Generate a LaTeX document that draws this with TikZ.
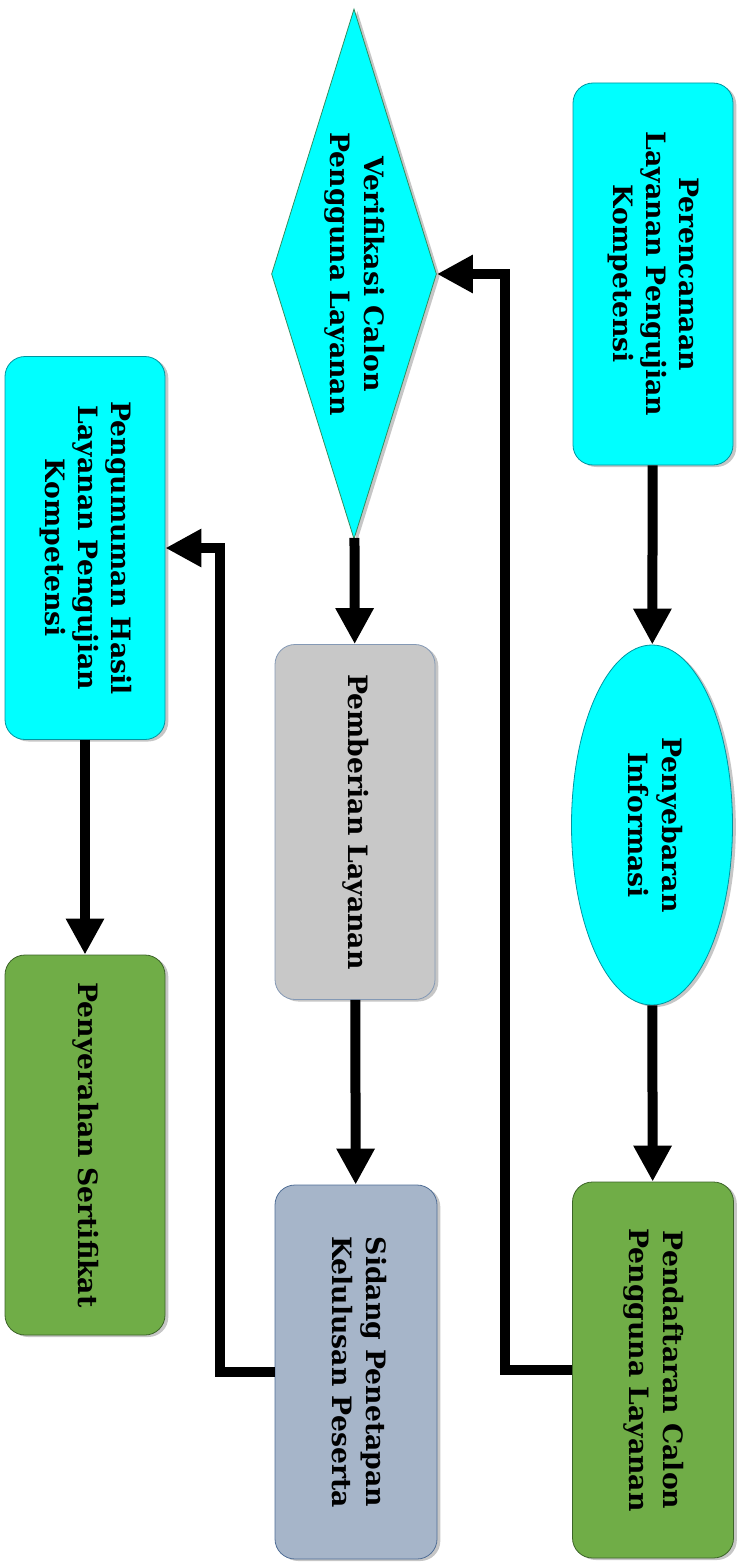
\documentclass[tikz,border=0pt]{standalone}
\usepackage{fontspec}
\usepackage{graphicx}
\setmainfont{DejaVu Serif}
\usetikzlibrary{shapes.geometric,arrows.meta,shadows}
\definecolor{cy}{RGB}{0,255,255}
\definecolor{cyedge}{RGB}{0,150,160}
\definecolor{gr}{RGB}{112,173,71}
\definecolor{gredge}{RGB}{60,100,40}
\definecolor{gy}{RGB}{200,200,200}
\definecolor{bg}{RGB}{166,181,201}
\definecolor{bgedge}{RGB}{80,110,150}
\newcommand{\vtext}[1]{\rotatebox{-90}{\begin{tabular}{@{}c@{}}#1\end{tabular}}}
\begin{document}
\begin{tikzpicture}[x=0.75pt,y=-0.75pt,
  every node/.style={font=\bfseries\fontsize{20}{25}\selectfont, text=black, inner sep=0pt},
  shd/.style={drop shadow={shadow xshift=2.5pt,shadow yshift=-1.5pt,opacity=0.45}},
  boxbase/.style={rectangle, rounded corners=15pt, shd, line width=0.6pt},
  cybox/.style={boxbase, fill=cy, draw=cyedge},
  grbox/.style={boxbase, fill=gr, draw=gredge},
  gybox/.style={boxbase, fill=gy, draw=bgedge!70},
  bgbox/.style={boxbase, fill=bg, draw=bgedge},
  arr/.style={line width=7.5pt, -{Triangle[length=27pt,width=27pt]}}
]
\useasboundingbox (0,0) rectangle (739,1562);
\node[cybox, minimum width=120pt, minimum height=286.5pt] (per) at (653,274)
  {\vtext{Perencanaan\\Layanan Pengujian\\Kompetensi}};
\node[ellipse, fill=cy, draw=cyedge, line width=0.6pt, shd, minimum width=120.75pt, minimum height=270pt] (pen) at (652,825)
  {\vtext{Penyebaran\\Informasi}};
\node[grbox, minimum width=120.75pt, minimum height=282pt] (pend) at (653,1370)
  {\vtext{Pendaftaran Calon\\Pengguna Layanan}};
\node[diamond, aspect=0.31, fill=cy, draw=cyedge!60!olive, line width=0.6pt, shd, minimum width=123.75pt, minimum height=397.5pt] (ver) at (354,274)
  {\vtext{Verifikasi Calon\\Pengguna Layanan}};
\node[gybox, minimum width=120pt, minimum height=266.25pt] (pem) at (355,822)
  {\vtext{Pemberian Layanan}};
\node[bgbox, minimum width=121.5pt, minimum height=280.5pt] (sid) at (356,1372)
  {\vtext{Sidang Penetapan\\Kelulusan Peserta}};
\node[cybox, minimum width=120pt, minimum height=287.25pt] (peng) at (85,548)
  {\vtext{Pengumuman Hasil\\Layanan Pengujian\\Kompetensi}};
\node[grbox, minimum width=120pt, minimum height=285pt] (pys) at (85,1145)
  {\vtext{Penyerahan Sertifikat}};
\draw[arr] (per) -- (pen);
\draw[arr] (pen) -- (pend);
\draw[arr] (ver) -- (pem);
\draw[arr] (pem) -- (sid);
\draw[arr] (peng) -- (pys);
\draw[arr] (pend.west) -- ++(-67,0) |- (ver.east);
\draw[arr] (sid.west) -- ++(-55,0) |- (peng.east);
\end{tikzpicture}
\end{document}
